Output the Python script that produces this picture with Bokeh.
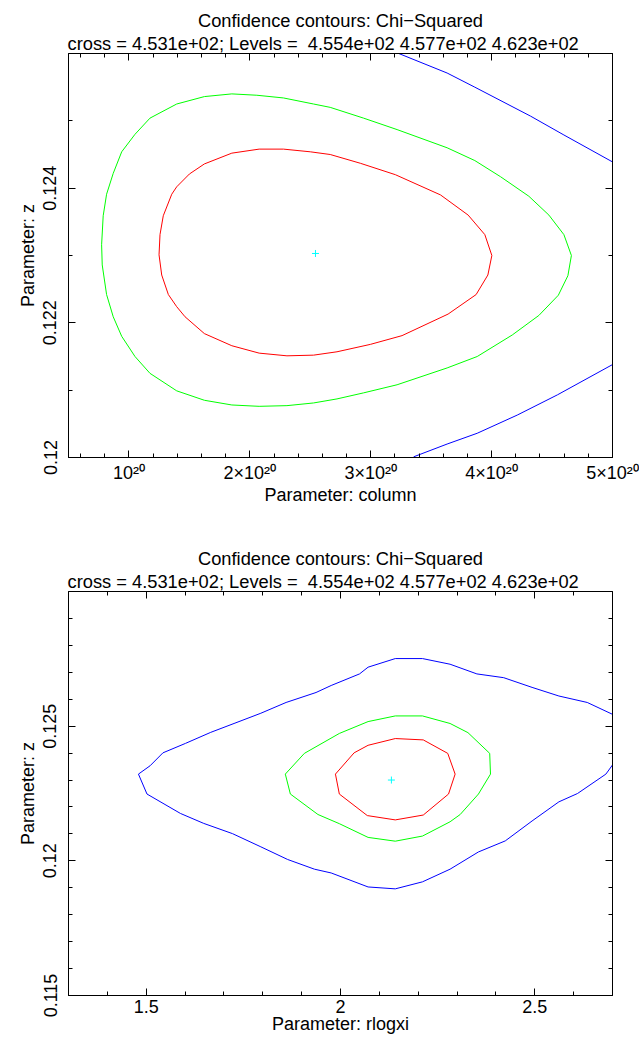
from bokeh.plotting import figure
from bokeh.layouts import column
from bokeh.models import FixedTicker, LinearAxis, Title, Range1d
from bokeh.embed import file_html
from bokeh.resources import INLINE

FONT = "Liberation Sans"

TITLE1 = "Confidence contours: Chi\u2212Squared"
TITLE2 = "cross = 4.531e+02; Levels =\u00a0 4.554e+02 4.577e+02 4.623e+02"

# ---------------- top panel: column vs z ----------------
top_xlabel = "Parameter: column"
top_ylabel = "Parameter: z"
top_x_range = (0.5e20, 5.0e20)
top_y_range = (0.120, 0.126)
top_x_ticks = [1e20, 2e20, 3e20, 4e20, 5e20]
top_x_tick_labels = ["10\u00b2\u2070", "2\u00d710\u00b2\u2070", "3\u00d710\u00b2\u2070",
                     "4\u00d710\u00b2\u2070", "5\u00d710\u00b2\u2070"]
top_x_minor = [0.6e20, 0.8e20, 1.2e20, 1.4e20, 1.6e20, 1.8e20, 2.2e20, 2.4e20, 2.6e20, 2.8e20,
               3.2e20, 3.4e20, 3.6e20, 3.8e20, 4.2e20, 4.4e20, 4.6e20, 4.8e20]
top_y_ticks = [0.120, 0.122, 0.124]
top_y_tick_labels = ["0.12", "0.122", "0.124"]
top_y_minor = [0.121, 0.123, 0.125]

top_red_x = [4.002e20, 3.944e20, 3.806e20, 3.577e20, 3.204e20, 2.914e20, 2.665e20, 2.500e20,
             2.278e20, 2.077e20, 1.851e20, 1.624e20, 1.500e20, 1.395e20, 1.354e20, 1.284e20,
             1.257e20, 1.249e20, 1.271e20, 1.326e20, 1.395e20, 1.464e20, 1.624e20, 1.851e20,
             2.077e20, 2.307e20, 2.527e20, 2.721e20, 2.997e20, 3.259e20, 3.640e20, 3.872e20,
             3.969e20, 4.002e20]
top_red_y = [0.12300, 0.12331, 0.12360, 0.12390, 0.12420, 0.12437, 0.12450, 0.12454,
             0.12458, 0.12458, 0.12452, 0.12436, 0.12421, 0.12402, 0.12391, 0.12359,
             0.12331, 0.12301, 0.12271, 0.12242, 0.12224, 0.12209, 0.12184, 0.12166,
             0.12155, 0.12151, 0.12152, 0.12157, 0.12168, 0.12181, 0.12213, 0.12242,
             0.12271, 0.12300]

top_green_x = [4.660e20, 4.598e20, 4.474e20, 4.308e20, 4.074e20, 3.861e20, 3.632e20, 3.218e20,
               2.941e20, 2.665e20, 2.527e20, 2.278e20, 2.058e20, 1.851e20, 1.624e20, 1.395e20,
               1.174e20, 1.050e20, 0.940e20, 0.870e20, 0.815e20, 0.787e20, 0.774e20, 0.779e20,
               0.815e20, 0.870e20, 0.940e20, 1.050e20, 1.174e20, 1.395e20, 1.624e20, 1.851e20,
               2.077e20, 2.307e20, 2.527e20, 2.721e20, 2.941e20, 3.218e20, 3.632e20, 3.881e20,
               4.171e20, 4.391e20, 4.552e20, 4.631e20, 4.660e20]
top_green_y = [0.12300, 0.12331, 0.12360, 0.12388, 0.12417, 0.12441, 0.12460, 0.12487,
               0.12504, 0.12520, 0.12525, 0.12534, 0.12538, 0.12540, 0.12536, 0.12525,
               0.12504, 0.12480, 0.12454, 0.12422, 0.12391, 0.12359, 0.12316, 0.12286,
               0.12242, 0.12209, 0.12180, 0.12150, 0.12125, 0.12099, 0.12085, 0.12078,
               0.12076, 0.12077, 0.12081, 0.12087, 0.12096, 0.12108, 0.12133, 0.12150,
               0.12182, 0.12211, 0.12241, 0.12270, 0.12300]

top_blue_upper_x = [3.218e20, 3.632e20, 3.861e20, 4.322e20, 4.598e20, 5.000e20]
top_blue_upper_y = [0.12601, 0.12571, 0.12550, 0.12507, 0.12479, 0.12439]
top_blue_lower_x = [3.355e20, 3.632e20, 3.881e20, 4.212e20, 4.544e20, 5.000e20]
top_blue_lower_y = [0.12001, 0.12020, 0.12036, 0.12063, 0.12093, 0.12138]

top_cross_x = [2.543e20]
top_cross_y = [0.12303]

# ---------------- bottom panel: rlogxi vs z ----------------
bot_xlabel = "Parameter: rlogxi"
bot_ylabel = "Parameter: z"
bot_x_range = (1.3, 2.7)
bot_y_range = (0.115, 0.130)
bot_x_ticks = [1.5, 2.0, 2.5]
bot_x_tick_labels = ["1.5", "2", "2.5"]
bot_x_minor = [1.4, 1.6, 1.7, 1.8, 1.9, 2.1, 2.2, 2.3, 2.4, 2.6]
bot_y_ticks = [0.115, 0.120, 0.125]
bot_y_tick_labels = ["0.115", "0.12", "0.125"]
bot_y_minor = [0.116, 0.117, 0.118, 0.119, 0.121, 0.122, 0.123, 0.124,
               0.126, 0.127, 0.128, 0.129]

bot_blue_x = [2.700, 2.635, 2.562, 2.493, 2.420, 2.351, 2.282, 2.211, 2.141, 2.071,
              2.049, 1.976, 1.937, 1.860, 1.795, 1.726, 1.666, 1.601, 1.543, 1.510,
              1.480, 1.502, 1.588, 1.648, 1.722, 1.795, 1.864, 1.933, 1.976, 2.071,
              2.141, 2.211, 2.282, 2.355, 2.424, 2.493, 2.562, 2.610, 2.683, 2.700]
bot_blue_y = [0.12544, 0.12588, 0.12612, 0.12644, 0.12680, 0.12694, 0.12730, 0.12751,
              0.12751, 0.12719, 0.12694, 0.12651, 0.12625, 0.12588, 0.12548, 0.12510,
              0.12477, 0.12436, 0.12401, 0.12353, 0.12322, 0.12248, 0.12176, 0.12139,
              0.12101, 0.12052, 0.12005, 0.11969, 0.11955, 0.11903, 0.11896, 0.11922,
              0.11969, 0.12033, 0.12074, 0.12148, 0.12219, 0.12250, 0.12322, 0.12356]

bot_green_x = [2.386, 2.384, 2.328, 2.282, 2.211, 2.141, 2.071, 1.997, 1.907, 1.858,
               1.871, 1.942, 1.997, 2.071, 2.141, 2.211, 2.282, 2.308, 2.355, 2.386]
bot_green_y = [0.12322, 0.12399, 0.12476, 0.12510, 0.12538, 0.12538, 0.12517, 0.12473,
               0.12399, 0.12322, 0.12248, 0.12172, 0.12138, 0.12087, 0.12073, 0.12092,
               0.12145, 0.12172, 0.12248, 0.12322]

bot_red_x = [2.295, 2.276, 2.213, 2.141, 2.071, 2.035, 1.987, 1.997, 2.069, 2.141,
             2.213, 2.278, 2.295]
bot_red_y = [0.12322, 0.12399, 0.12449, 0.12454, 0.12429, 0.12401, 0.12322, 0.12248,
             0.12168, 0.12152, 0.12170, 0.12248, 0.12322]

bot_cross_x = [2.131]
bot_cross_y = [0.12300]


def style_axis(ax, ticks, minor, labels=None, show_labels=True):
    ax.ticker = FixedTicker(ticks=ticks, minor_ticks=minor)
    ax.axis_line_color = "black"
    ax.axis_line_width = 1
    ax.major_tick_line_color = "black"
    ax.minor_tick_line_color = "black"
    ax.major_tick_in = 7
    ax.major_tick_out = 0
    ax.minor_tick_in = 4
    ax.minor_tick_out = 0
    ax.major_label_text_font = FONT
    if show_labels:
        ax.major_label_text_color = "black"
        ax.major_label_text_font_size = "18px"
        if labels is not None:
            ax.major_label_overrides = dict(zip(ticks, labels))
    else:
        # mirror axis: ticks only, no tick labels drawn
        ax.major_label_text_color = None
        ax.major_label_text_alpha = 0
        ax.major_label_text_font_size = "1px"
        ax.major_label_standoff = 4
    ax.axis_label_text_font = FONT
    ax.axis_label_text_font_size = "18px"
    ax.axis_label_text_font_style = "normal"
    ax.axis_label_text_color = "black"


def make_panel(xr, yr, xt, xminor, xlabels, yt, yminor, ylabels, xlabel, ylabel,
               height, border_top, border_bottom, x_std, x_label_std):
    p = figure(width=639, height=height, x_range=Range1d(*xr), y_range=Range1d(*yr),
               output_backend="svg", toolbar_location=None,
               min_border_left=68, min_border_right=27,
               min_border_top=border_top, min_border_bottom=border_bottom,
               background_fill_color="white", border_fill_color="white")
    p.xgrid.visible = False
    p.ygrid.visible = False
    p.outline_line_color = "black"
    p.outline_line_width = 1

    xa = p.xaxis[0]
    style_axis(xa, xt, xminor, xlabels)
    xa.major_label_standoff = x_std
    xa.axis_label = xlabel
    xa.axis_label_standoff = x_label_std

    ya = p.yaxis[0]
    style_axis(ya, yt, yminor, ylabels)
    ya.major_label_orientation = "vertical"
    ya.major_label_standoff = 12
    ya.axis_label = ylabel
    ya.axis_label_standoff = 3

    top_ax = LinearAxis()
    style_axis(top_ax, xt, xminor, show_labels=False)
    p.add_layout(top_ax, "above")
    right_ax = LinearAxis()
    style_axis(right_ax, yt, yminor, show_labels=False)
    p.add_layout(right_ax, "right")

    t2 = Title(text=TITLE2, align="left", offset=-1, text_font=FONT, text_font_size="18.3px",
               text_font_style="normal", text_color="black", standoff=0)
    p.add_layout(t2, "above")
    p.title.text = TITLE1
    p.title.align = "center"
    p.title.text_font = FONT
    p.title.text_font_size = "18.3px"
    p.title.text_font_style = "normal"
    p.title.text_color = "black"
    p.title.standoff = 0
    return p


p1 = make_panel(top_x_range, top_y_range, top_x_ticks, top_x_minor, top_x_tick_labels,
                top_y_ticks, top_y_minor, top_y_tick_labels, top_xlabel, top_ylabel,
                517, 53, 60, 5, -1)
p1.line(top_blue_upper_x, top_blue_upper_y, line_color="blue", line_width=1)
p1.line(top_blue_lower_x, top_blue_lower_y, line_color="blue", line_width=1)
p1.line(top_green_x, top_green_y, line_color="lime", line_width=1)
p1.line(top_red_x, top_red_y, line_color="red", line_width=1)
p1.scatter(top_cross_x, top_cross_y, marker="cross", size=7, line_color="cyan", line_width=1)

p2 = make_panel(bot_x_range, bot_y_range, bot_x_ticks, bot_x_minor, bot_x_tick_labels,
                bot_y_ticks, bot_y_minor, bot_y_tick_labels, bot_xlabel, bot_ylabel,
                522, 74, 44, 4, -2)
p2.line(bot_blue_x, bot_blue_y, line_color="blue", line_width=1)
p2.line(bot_green_x, bot_green_y, line_color="lime", line_width=1)
p2.line(bot_red_x, bot_red_y, line_color="red", line_width=1)
p2.scatter(bot_cross_x, bot_cross_y, marker="cross", size=7, line_color="cyan", line_width=1)

layout = column(p1, p2, spacing=0)
open("out.html", "w").write(file_html(layout, INLINE))
